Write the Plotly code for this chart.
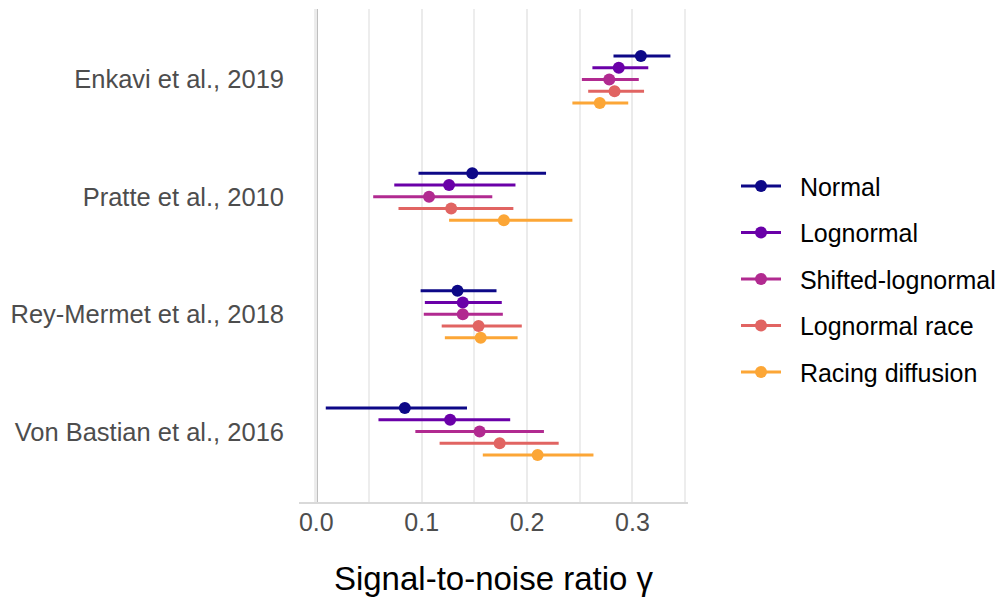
import plotly.graph_objects as go

studies = ["Von Bastian et al., 2016", "Rey-Mermet et al., 2018", "Pratte et al., 2010", "Enkavi et al., 2019"]
models = ["Normal", "Lognormal", "Shifted-lognormal", "Lognormal race", "Racing diffusion"]
colors = ["#0D0887", "#6A00A8", "#B12A90", "#E16462", "#FCA636"]
offsets = [0.2, 0.1, 0.0, -0.1, -0.2]

# estimates per model, in order of studies (Von Bastian, Rey-Mermet, Pratte, Enkavi)
est_normal = [0.084, 0.134, 0.148, 0.308]
lo_normal = [0.009, 0.099, 0.097, 0.282]
hi_normal = [0.143, 0.171, 0.218, 0.336]

est_lognormal = [0.127, 0.139, 0.126, 0.287]
lo_lognormal = [0.059, 0.103, 0.074, 0.262]
hi_lognormal = [0.184, 0.176, 0.189, 0.315]

est_shifted = [0.155, 0.139, 0.107, 0.278]
lo_shifted = [0.094, 0.102, 0.054, 0.252]
hi_shifted = [0.216, 0.177, 0.167, 0.306]

est_lnrace = [0.174, 0.154, 0.128, 0.283]
lo_lnrace = [0.117, 0.119, 0.078, 0.258]
hi_lnrace = [0.230, 0.195, 0.187, 0.311]

est_rd = [0.210, 0.156, 0.178, 0.269]
lo_rd = [0.158, 0.122, 0.126, 0.243]
hi_rd = [0.263, 0.191, 0.243, 0.296]

series = [
    (est_normal, lo_normal, hi_normal),
    (est_lognormal, lo_lognormal, hi_lognormal),
    (est_shifted, lo_shifted, hi_shifted),
    (est_lnrace, lo_lnrace, hi_lnrace),
    (est_rd, lo_rd, hi_rd),
]

FONT = "Liberation Sans, Arial, sans-serif"

fig = go.Figure()
for name, col, off, (est, lo, hi) in zip(models, colors, offsets, series):
    ys = [k + 1 + off for k in range(len(studies))]
    fig.add_trace(go.Scatter(
        x=est, y=ys, name=name, mode="markers",
        marker=dict(color=col, size=12),
        legendgroup=name, showlegend=False,
        error_x=dict(type="data", symmetric=False,
                     array=[h - e for h, e in zip(hi, est)],
                     arrayminus=[e - l for e, l in zip(est, lo)],
                     color=col, thickness=3, width=0),
    ))

# legend entries (line + point key, as in the original)
for name, col in zip(models, colors):
    fig.add_trace(go.Scatter(
        x=[None], y=[None], name="&nbsp;&nbsp;" + name, mode="lines+markers",
        line=dict(color=col, width=3), marker=dict(color=col, size=12),
        legendgroup=name, showlegend=True,
    ))

fig.add_shape(type="line", x0=0, x1=0, y0=0, y1=1, xref="x", yref="paper",
              line=dict(color="#adadad", width=3), layer="below")

fig.update_layout(
    width=1001, height=598,
    margin=dict(l=299, r=313, t=9, b=96, autoexpand=False),
    paper_bgcolor="white", plot_bgcolor="white",
    font=dict(family=FONT, size=25, color="#4d4d4d"),
    legend=dict(x=1.1234, y=0.452, xanchor="left", yanchor="middle",
                font=dict(size=25, color="black", family=FONT),
                tracegroupgap=11, itemwidth=40, bgcolor="rgba(0,0,0,0)"),
    xaxis=dict(range=[-0.0164, 0.3527], tickvals=[0, 0.1, 0.2, 0.3],
               ticktext=["0.0", "0.1", "0.2", "0.3"],
               showgrid=True, gridcolor="#ebebeb", gridwidth=2,
               minor=dict(showgrid=True, gridcolor="#ededed", gridwidth=1.6, dtick=0.05, tick0=0),
               showline=True, linecolor="#d9d9d9", linewidth=2,
               zeroline=False, ticks="", ticklabelstandoff=-3,
               tickfont=dict(size=25, color="#4d4d4d"),
               title=dict(text="Signal-to-noise ratio γ", font=dict(size=33, color="black"), standoff=32)),
    yaxis=dict(range=[0.4, 4.6], tickvals=[1, 2, 3, 4], ticktext=studies,
               showgrid=False, zeroline=False, showline=False, ticks="",
               ticklabelstandoff=14, tickfont=dict(size=25.5, color="#4d4d4d")),
)

fig.write_html("out.html")
